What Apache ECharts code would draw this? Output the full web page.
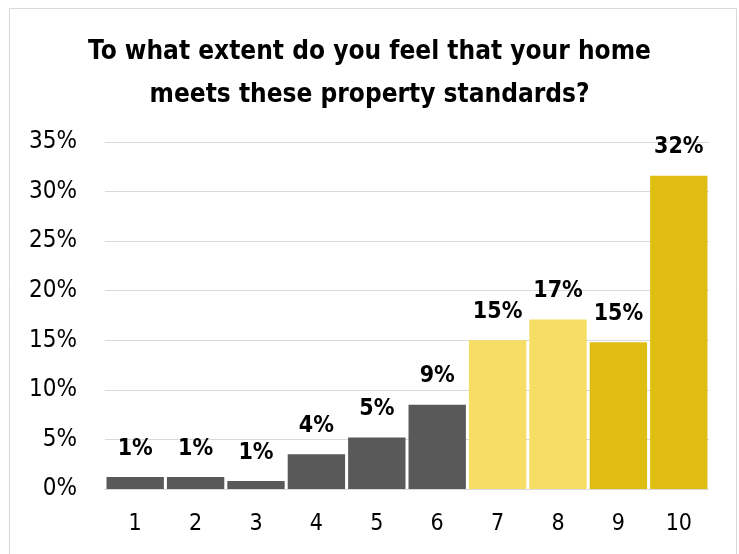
<!DOCTYPE html>
<html>
<head>
<meta charset="utf-8">
<script src="https://cdn.jsdelivr.net/npm/echarts@6/dist/echarts.min.js"></script>
<style>
  html, body { margin: 0; padding: 0; background: #fff; }
  #chart { width: 739px; height: 554px; }
</style>
</head>
<body>
<div id="chart"></div>
<script>
// Survey responses on a 1–10 scale
const categories = ['1', '2', '3', '4', '5', '6', '7', '8', '9', '10'];
const shares = [1.2, 1.2, 0.8, 3.5, 5.2, 8.5, 15.0, 17.1, 14.8, 31.6];
const yTicks = [0, 5, 10, 15, 20, 25, 30, 35];

const TITLE = 'To what extent do you feel that your home\nmeets these property standards?';
const FONT = '"Liberation Sans Narrow", "DejaVu Sans Condensed", "Open Sans", sans-serif';

// Low scores grey, 7–8 pale yellow, 9–10 gold
function barColor(i) {
  if (i < 6) return '#595959';
  if (i < 8) return '#F6DD63';
  return '#E0BD12';
}

const chart = echarts.init(document.getElementById('chart'));
chart.setOption({
  backgroundColor: '#fff',
  animation: false,
  graphic: [{
    type: 'rect',
    shape: { x: 9.5, y: 8.5, width: 727, height: 570 },
    style: { fill: 'none', stroke: '#d9d9d9', lineWidth: 1 },
    silent: true
  }],
  title: {
    text: TITLE,
    left: 'center',
    top: 26,
    textStyle: {
      fontFamily: FONT,
      fontSize: 26,
      fontWeight: 'bold',
      color: '#000',
      lineHeight: 43
    }
  },
  grid: { left: 105, right: 30, top: 142, bottom: 65 },
  xAxis: {
    type: 'category',
    data: categories,
    axisLine: { lineStyle: { color: '#d9d9d9', width: 1 } },
    axisTick: { show: false },
    axisLabel: {
      fontFamily: FONT,
      fontSize: 23,
      color: '#000',
      margin: 24
    }
  },
  yAxis: {
    type: 'value',
    min: yTicks[0],
    max: yTicks[yTicks.length - 1],
    interval: yTicks[1] - yTicks[0],
    axisLine: { show: false },
    axisTick: { show: false },
    splitLine: { lineStyle: { color: '#d9d9d9', width: 1 } },
    axisLabel: {
      fontFamily: FONT,
      fontSize: 24,
      color: '#000',
      margin: 28,
      formatter: v => v + '%'
    }
  },
  series: [{
    type: 'bar',
    data: shares.map((v, i) => ({ value: v, itemStyle: { color: barColor(i) } })),
    barCategoryGap: '5%',
    label: {
      show: true,
      position: 'top',
      distance: 17,
      fontFamily: FONT,
      fontSize: 23,
      fontWeight: 'bold',
      color: '#000',
      formatter: p => Math.round(p.value) + '%'
    }
  }]
});
</script>
</body>
</html>
